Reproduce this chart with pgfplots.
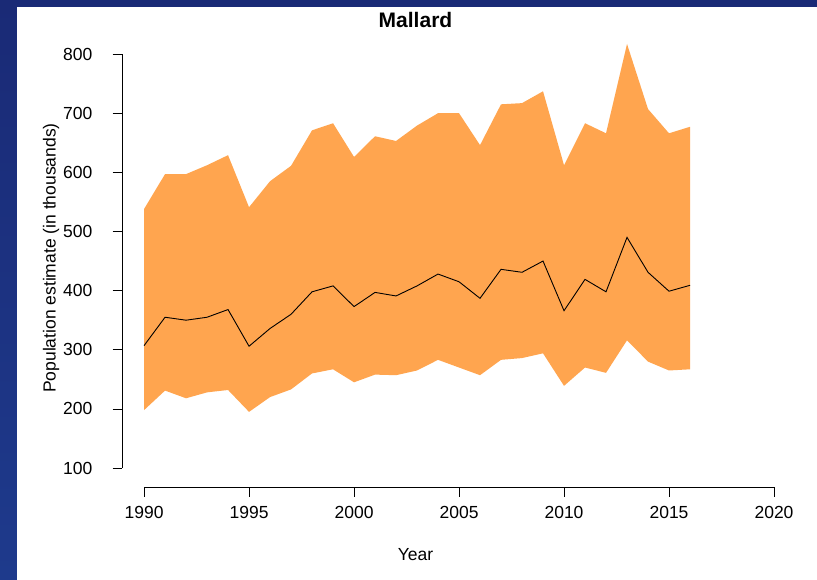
\documentclass[border=0pt]{standalone}
\usepackage{pgfplots}
\pgfplotsset{compat=1.18}
\usepackage{fontspec}
\setmainfont{Liberation Sans}
\definecolor{tanone}{RGB}{255,165,79}
\definecolor{bordertop}{RGB}{26,42,118}
\definecolor{borderbot}{RGB}{30,58,140}
\begin{document}
\begin{tikzpicture}[x=1pt,y=1pt]
\useasboundingbox (0,0) rectangle (817,579);
\shade[top color=bordertop, bottom color=borderbot] (0,0) rectangle (817,579);
\fill[white] (17,-2) rectangle (819,572);
\begin{axis}[
  at={(122pt,92pt)}, anchor=south west,
  scale only axis, width=683.5pt, height=450.7pt,
  xmin=1988.95, xmax=2021.5, ymin=68, ymax=830,
  clip=false,
  axis lines*=left,
  axis line style={draw=none},
  tick align=outside,
  major tick length=9.5pt,
  tick style={black, line width=0.8pt},
  xtick={1990,1995,...,2020},
  ytick={100,200,...,800},
  minor tick num=0,
  /pgf/number format/assume math mode=true,
  /pgf/number format/1000 sep={},
  tick label style={font=\fontsize{17.5}{20}\selectfont},
  yticklabel style={anchor=east, inner sep=0pt, xshift=-20pt},
  xticklabel style={anchor=north, inner sep=0pt, yshift=-9.5pt},
  title={\textbf{Mallard}},
  title style={at={(axis description cs:0.4294,1.0229)}, anchor=center, font=\fontsize{21}{24}\selectfont},
  xlabel={Year},
  xlabel style={at={(axis description cs:0.4294,-0.1498)}, anchor=center, font=\fontsize{17.5}{20}\selectfont},
  ylabel={Population estimate (in thousands)},
  ylabel style={at={(axis description cs:-0.1039,0.508)}, anchor=center, font=\fontsize{17.5}{20}\selectfont},
]
\addplot[fill=tanone, draw=none] coordinates {
(1990,538) (1991,597) (1992,597) (1993,612) (1994,629) (1995,541) (1996,585) (1997,611) (1998,671) (1999,683)
(2000,626) (2001,661) (2002,653) (2003,679) (2004,700) (2005,700) (2006,646) (2007,715) (2008,717) (2009,737)
(2010,612) (2011,683) (2012,666) (2013,817) (2014,707) (2015,666) (2016,677)
(2016,267) (2015,265) (2014,280) (2013,316) (2012,261) (2011,270) (2010,239)
(2009,294) (2008,286) (2007,283) (2006,257) (2005,270) (2004,283) (2003,265) (2002,257) (2001,258) (2000,245)
(1999,267) (1998,260) (1997,233) (1996,220) (1995,195) (1994,232) (1993,228) (1992,218) (1991,231) (1990,198)
} -- cycle;
\addplot[black, line width=0.9pt, mark=none] coordinates {
(1990,307) (1991,355) (1992,350) (1993,355) (1994,368) (1995,306) (1996,336) (1997,360) (1998,398) (1999,408)
(2000,373) (2001,397) (2002,391) (2003,408) (2004,428) (2005,415) (2006,387) (2007,436) (2008,431) (2009,450)
(2010,366) (2011,419) (2012,398) (2013,490) (2014,431) (2015,399) (2016,409)
};
\draw[black, line width=0.8pt] (axis cs:1988.95,100) -- (axis cs:1988.95,800);
\draw[black, line width=0.8pt] (axis cs:1990,68) -- (axis cs:2020,68);
\end{axis}
\end{tikzpicture}
\end{document}
